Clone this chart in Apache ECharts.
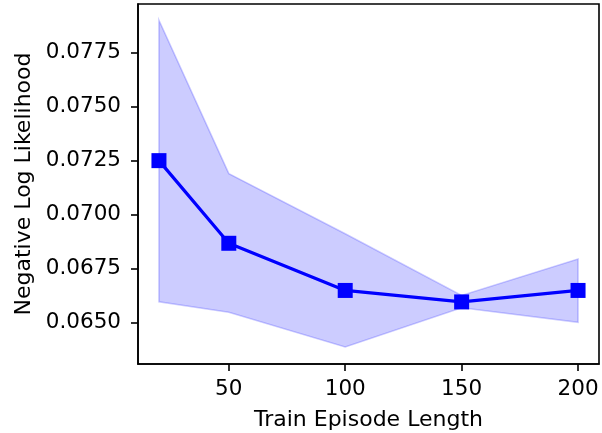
<!DOCTYPE html>
<html>
<head>
<meta charset="utf-8">
<script src="https://cdn.jsdelivr.net/npm/echarts@6/dist/echarts.min.js"></script>
<style>html,body{margin:0;padding:0;background:#fff}#c{width:602px;height:433px}</style>
</head>
<body>
<div id="c"></div>
<script>
const episodeLength = [20, 50, 100, 150, 200];
const meanNLL = [0.0725, 0.06868, 0.0665, 0.06597, 0.0665];
const upperNLL = [0.07899, 0.0719, 0.06912, 0.06627, 0.06795];
const lowerNLL = [0.06598, 0.06549, 0.06389, 0.06570, 0.06503];
const xTicks = [50, 100, 150, 200];
const yTicks = [0.0650, 0.0675, 0.0700, 0.0725, 0.0750, 0.0775];

const chart = echarts.init(document.getElementById('c'), null, {renderer: 'canvas'});
const font = 'DejaVu Sans';
chart.setOption({
  animation: false,
  grid: {left: 138, right: 3, top: 4, bottom: 69, show: true, borderColor: '#000', borderWidth: 1.6,
    backgroundColor: 'transparent', containLabel: false, outerBoundsMode: 'none'},
  xAxis: {
    type: 'value', min: 11, max: 209,
    name: 'Train Episode Length', nameLocation: 'middle', nameGap: 45,
    nameTextStyle: {fontFamily: font, fontSize: 22, color: '#000'},
    axisLine: {lineStyle: {color: '#000', width: 1.6}},
    axisTick: {show: true, length: 7, lineStyle: {color: '#000', width: 1.6}, customValues: xTicks},
    axisLabel: {fontFamily: font, fontSize: 21.5, color: '#000', margin: 14, customValues: xTicks},
    splitLine: {show: false}
  },
  yAxis: {
    type: 'value', min: 0.06310, max: 0.07974,
    name: 'Negative Log Likelihood', nameLocation: 'middle', nameGap: 103,
    nameTextStyle: {fontFamily: font, fontSize: 22, color: '#000'},
    axisLine: {show: true, lineStyle: {color: '#000', width: 1.6}},
    axisTick: {show: true, length: 7, lineStyle: {color: '#000', width: 1.6}, customValues: yTicks},
    axisLabel: {fontFamily: font, fontSize: 21.5, color: '#000', margin: 17, customValues: yTicks,
      formatter: v => v.toFixed(4)},
    splitLine: {show: false}
  },
  series: [
    {
      type: 'custom',
      data: [0],
      z: 1,
      renderItem: function (params, api) {
        const pts = [];
        for (let i = 0; i < episodeLength.length; i++) pts.push(api.coord([episodeLength[i], upperNLL[i]]));
        for (let i = episodeLength.length - 1; i >= 0; i--) pts.push(api.coord([episodeLength[i], lowerNLL[i]]));
        return {
          type: 'polygon',
          shape: {points: pts},
          style: {fill: 'rgba(0,0,255,0.2)', stroke: 'rgba(0,0,255,0.2)', lineWidth: 1.6}
        };
      },
      clip: true
    },
    {
      type: 'line',
      z: 3,
      data: episodeLength.map((x, i) => [x, meanNLL[i]]),
      lineStyle: {color: '#0000ff', width: 3.2},
      itemStyle: {color: '#0000ff'},
      symbol: 'rect', symbolSize: 15, showSymbol: true
    }
  ]
});
</script>
</body>
</html>
